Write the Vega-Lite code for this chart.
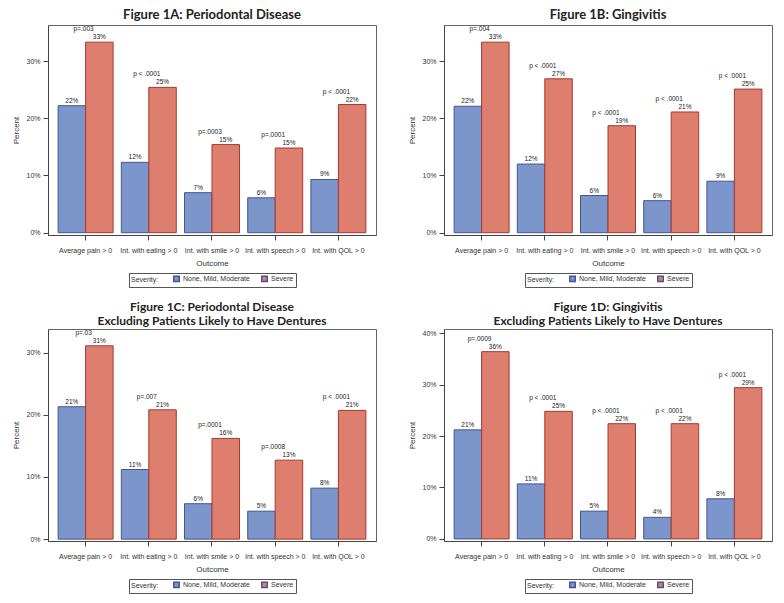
{
  "$schema": "https://vega.github.io/schema/vega-lite/v6.json",
  "padding": {"left": 12, "top": 8, "right": 4, "bottom": 4},
  "background": "white",
  "data": {"values": [
    {"panel": "A", "outcome": "Average pain > 0", "severity": "None, Mild, Moderate", "value": 22.2, "label": "22%"},
    {"panel": "A", "outcome": "Int. with eating > 0", "severity": "None, Mild, Moderate", "value": 12.3, "label": "12%"},
    {"panel": "A", "outcome": "Int. with smile > 0", "severity": "None, Mild, Moderate", "value": 7.0, "label": "7%"},
    {"panel": "A", "outcome": "Int. with speech > 0", "severity": "None, Mild, Moderate", "value": 6.1, "label": "6%"},
    {"panel": "A", "outcome": "Int. with QOL > 0", "severity": "None, Mild, Moderate", "value": 9.3, "label": "9%"},
    {"panel": "A", "outcome": "Average pain > 0", "severity": "Severe", "value": 33.3, "label": "33%", "p": "p=.003"},
    {"panel": "A", "outcome": "Int. with eating > 0", "severity": "Severe", "value": 25.4, "label": "25%", "p": "p < .0001"},
    {"panel": "A", "outcome": "Int. with smile > 0", "severity": "Severe", "value": 15.4, "label": "15%", "p": "p=.0003"},
    {"panel": "A", "outcome": "Int. with speech > 0", "severity": "Severe", "value": 14.8, "label": "15%", "p": "p=.0001"},
    {"panel": "A", "outcome": "Int. with QOL > 0", "severity": "Severe", "value": 22.4, "label": "22%", "p": "p < .0001"},
    {"panel": "B", "outcome": "Average pain > 0", "severity": "None, Mild, Moderate", "value": 22.1, "label": "22%"},
    {"panel": "B", "outcome": "Int. with eating > 0", "severity": "None, Mild, Moderate", "value": 12.0, "label": "12%"},
    {"panel": "B", "outcome": "Int. with smile > 0", "severity": "None, Mild, Moderate", "value": 6.5, "label": "6%"},
    {"panel": "B", "outcome": "Int. with speech > 0", "severity": "None, Mild, Moderate", "value": 5.6, "label": "6%"},
    {"panel": "B", "outcome": "Int. with QOL > 0", "severity": "None, Mild, Moderate", "value": 9.0, "label": "9%"},
    {"panel": "B", "outcome": "Average pain > 0", "severity": "Severe", "value": 33.3, "label": "33%", "p": "p=.004"},
    {"panel": "B", "outcome": "Int. with eating > 0", "severity": "Severe", "value": 26.9, "label": "27%", "p": "p < .0001"},
    {"panel": "B", "outcome": "Int. with smile > 0", "severity": "Severe", "value": 18.7, "label": "19%", "p": "p < .0001"},
    {"panel": "B", "outcome": "Int. with speech > 0", "severity": "Severe", "value": 21.1, "label": "21%", "p": "p < .0001"},
    {"panel": "B", "outcome": "Int. with QOL > 0", "severity": "Severe", "value": 25.1, "label": "25%", "p": "p < .0001"},
    {"panel": "C", "outcome": "Average pain > 0", "severity": "None, Mild, Moderate", "value": 21.3, "label": "21%"},
    {"panel": "C", "outcome": "Int. with eating > 0", "severity": "None, Mild, Moderate", "value": 11.2, "label": "11%"},
    {"panel": "C", "outcome": "Int. with smile > 0", "severity": "None, Mild, Moderate", "value": 5.7, "label": "6%"},
    {"panel": "C", "outcome": "Int. with speech > 0", "severity": "None, Mild, Moderate", "value": 4.5, "label": "5%"},
    {"panel": "C", "outcome": "Int. with QOL > 0", "severity": "None, Mild, Moderate", "value": 8.2, "label": "8%"},
    {"panel": "C", "outcome": "Average pain > 0", "severity": "Severe", "value": 31.1, "label": "31%", "p": "p=.03"},
    {"panel": "C", "outcome": "Int. with eating > 0", "severity": "Severe", "value": 20.8, "label": "21%", "p": "p=.007"},
    {"panel": "C", "outcome": "Int. with smile > 0", "severity": "Severe", "value": 16.2, "label": "16%", "p": "p=.0001"},
    {"panel": "C", "outcome": "Int. with speech > 0", "severity": "Severe", "value": 12.7, "label": "13%", "p": "p=.0008"},
    {"panel": "C", "outcome": "Int. with QOL > 0", "severity": "Severe", "value": 20.7, "label": "21%", "p": "p < .0001"},
    {"panel": "D", "outcome": "Average pain > 0", "severity": "None, Mild, Moderate", "value": 21.2, "label": "21%"},
    {"panel": "D", "outcome": "Int. with eating > 0", "severity": "None, Mild, Moderate", "value": 10.7, "label": "11%"},
    {"panel": "D", "outcome": "Int. with smile > 0", "severity": "None, Mild, Moderate", "value": 5.4, "label": "5%"},
    {"panel": "D", "outcome": "Int. with speech > 0", "severity": "None, Mild, Moderate", "value": 4.2, "label": "4%"},
    {"panel": "D", "outcome": "Int. with QOL > 0", "severity": "None, Mild, Moderate", "value": 7.8, "label": "8%"},
    {"panel": "D", "outcome": "Average pain > 0", "severity": "Severe", "value": 36.4, "label": "36%", "p": "p=.0009"},
    {"panel": "D", "outcome": "Int. with eating > 0", "severity": "Severe", "value": 24.8, "label": "25%", "p": "p < .0001"},
    {"panel": "D", "outcome": "Int. with smile > 0", "severity": "Severe", "value": 22.4, "label": "22%", "p": "p < .0001"},
    {"panel": "D", "outcome": "Int. with speech > 0", "severity": "Severe", "value": 22.4, "label": "22%", "p": "p < .0001"},
    {"panel": "D", "outcome": "Int. with QOL > 0", "severity": "Severe", "value": 29.4, "label": "29%", "p": "p < .0001"}
  ]},
  "columns": 2,
  "spacing": {"row": 12, "column": 31},
  "resolve": {"scale": {"color": "independent", "y": "independent", "x": "independent"}, "legend": {"color": "independent"}},
  "concat": [
    {
      "title": {"text": "Figure 1A: Periodontal Disease", "fontSize": 13, "offset": 3},
      "width": 328, "height": 210,
      "transform": [{"filter": "datum.panel == 'A'"}],
      "encoding": {
        "x": {"field": "outcome", "type": "nominal", "sort": null, "title": "Outcome", "scale": {"paddingInner": 0.13, "paddingOuter": 0.16}, "axis": {"labelAngle": 0}},
        "y": {"field": "value", "type": "quantitative", "title": "Percent", "scale": {"domain": [-0.4, 36.3], "nice": false}, "axis": {"values": [0, 10, 20, 30], "labelExpr": "datum.value + '%'"}}
      },
      "layer": [
        {"mark": {"type": "bar", "strokeWidth": 1},
         "encoding": {
           "xOffset": {"field": "severity", "type": "nominal", "scale": {"paddingInner": 0, "paddingOuter": 0}},
           "color": {"field": "severity", "type": "nominal", "title": "Severity:", "scale": {"domain": ["None, Mild, Moderate", "Severe"], "range": ["#7C95CA", "#DE7E6F"]},
             "legend": {"encode": {"symbols": {"update": {"stroke": {"signal": "datum.value == 'Severe' ? '#A23A2E' : '#445694'"}, "strokeWidth": {"value": 1}}}}}},
           "stroke": {"condition": {"test": "datum.severity == 'Severe'", "value": "#A23A2E"}, "value": "#445694"}
         }},
        {"mark": {"type": "text", "baseline": "bottom", "dy": -2, "fontSize": 6.5, "font": "Liberation Sans", "fill": "#222"},
         "encoding": {"xOffset": {"field": "severity", "type": "nominal", "scale": {"paddingInner": 0, "paddingOuter": 0}}, "text": {"field": "label"}}},
        {"transform": [{"filter": "datum.severity == 'Severe'"}],
         "mark": {"type": "text", "baseline": "bottom", "dy": -10, "dx": -2, "fontSize": 6.5, "font": "Liberation Sans", "fill": "#222"},
         "encoding": {"text": {"field": "p"}}}
      ]
    },
    {
      "title": {"text": "Figure 1B: Gingivitis", "fontSize": 13, "offset": 3},
      "width": 328, "height": 210,
      "transform": [{"filter": "datum.panel == 'B'"}],
      "encoding": {
        "x": {"field": "outcome", "type": "nominal", "sort": null, "title": "Outcome", "scale": {"paddingInner": 0.13, "paddingOuter": 0.16}, "axis": {"labelAngle": 0}},
        "y": {"field": "value", "type": "quantitative", "title": "Percent", "scale": {"domain": [-0.4, 36.3], "nice": false}, "axis": {"values": [0, 10, 20, 30], "labelExpr": "datum.value + '%'"}}
      },
      "layer": [
        {"mark": {"type": "bar", "strokeWidth": 1},
         "encoding": {
           "xOffset": {"field": "severity", "type": "nominal", "scale": {"paddingInner": 0, "paddingOuter": 0}},
           "color": {"field": "severity", "type": "nominal", "title": "Severity:", "scale": {"domain": ["None, Mild, Moderate", "Severe"], "range": ["#7C95CA", "#DE7E6F"]},
             "legend": {"encode": {"symbols": {"update": {"stroke": {"signal": "datum.value == 'Severe' ? '#A23A2E' : '#445694'"}, "strokeWidth": {"value": 1}}}}}},
           "stroke": {"condition": {"test": "datum.severity == 'Severe'", "value": "#A23A2E"}, "value": "#445694"}
         }},
        {"mark": {"type": "text", "baseline": "bottom", "dy": -2, "fontSize": 6.5, "font": "Liberation Sans", "fill": "#222"},
         "encoding": {"xOffset": {"field": "severity", "type": "nominal", "scale": {"paddingInner": 0, "paddingOuter": 0}}, "text": {"field": "label"}}},
        {"transform": [{"filter": "datum.severity == 'Severe'"}],
         "mark": {"type": "text", "baseline": "bottom", "dy": -10, "dx": -2, "fontSize": 6.5, "font": "Liberation Sans", "fill": "#222"},
         "encoding": {"text": {"field": "p"}}}
      ]
    },
    {
      "title": {"text": "Figure 1C: Periodontal Disease", "subtitle": "Excluding Patients Likely to Have Dentures", "fontSize": 12, "offset": 1},
      "width": 328, "height": 212,
      "transform": [{"filter": "datum.panel == 'C'"}],
      "encoding": {
        "x": {"field": "outcome", "type": "nominal", "sort": null, "title": "Outcome", "scale": {"paddingInner": 0.13, "paddingOuter": 0.16}, "axis": {"labelAngle": 0}},
        "y": {"field": "value", "type": "quantitative", "title": "Percent", "scale": {"domain": [-0.3, 33.8], "nice": false}, "axis": {"values": [0, 10, 20, 30], "labelExpr": "datum.value + '%'"}}
      },
      "layer": [
        {"mark": {"type": "bar", "strokeWidth": 1},
         "encoding": {
           "xOffset": {"field": "severity", "type": "nominal", "scale": {"paddingInner": 0, "paddingOuter": 0}},
           "color": {"field": "severity", "type": "nominal", "title": "Severity:", "scale": {"domain": ["None, Mild, Moderate", "Severe"], "range": ["#7C95CA", "#DE7E6F"]},
             "legend": {"encode": {"symbols": {"update": {"stroke": {"signal": "datum.value == 'Severe' ? '#A23A2E' : '#445694'"}, "strokeWidth": {"value": 1}}}}}},
           "stroke": {"condition": {"test": "datum.severity == 'Severe'", "value": "#A23A2E"}, "value": "#445694"}
         }},
        {"mark": {"type": "text", "baseline": "bottom", "dy": -2, "fontSize": 6.5, "font": "Liberation Sans", "fill": "#222"},
         "encoding": {"xOffset": {"field": "severity", "type": "nominal", "scale": {"paddingInner": 0, "paddingOuter": 0}}, "text": {"field": "label"}}},
        {"transform": [{"filter": "datum.severity == 'Severe'"}],
         "mark": {"type": "text", "baseline": "bottom", "dy": -10, "dx": -2, "fontSize": 6.5, "font": "Liberation Sans", "fill": "#222"},
         "encoding": {"text": {"field": "p"}}}
      ]
    },
    {
      "title": {"text": "Figure 1D: Gingivitis", "subtitle": "Excluding Patients Likely to Have Dentures", "fontSize": 12, "offset": 1},
      "width": 328, "height": 212,
      "transform": [{"filter": "datum.panel == 'D'"}],
      "encoding": {
        "x": {"field": "outcome", "type": "nominal", "sort": null, "title": "Outcome", "scale": {"paddingInner": 0.13, "paddingOuter": 0.16}, "axis": {"labelAngle": 0}},
        "y": {"field": "value", "type": "quantitative", "title": "Percent", "scale": {"domain": [-0.4, 40.8], "nice": false}, "axis": {"values": [0, 10, 20, 30, 40], "labelExpr": "datum.value + '%'"}}
      },
      "layer": [
        {"mark": {"type": "bar", "strokeWidth": 1},
         "encoding": {
           "xOffset": {"field": "severity", "type": "nominal", "scale": {"paddingInner": 0, "paddingOuter": 0}},
           "color": {"field": "severity", "type": "nominal", "title": "Severity:", "scale": {"domain": ["None, Mild, Moderate", "Severe"], "range": ["#7C95CA", "#DE7E6F"]},
             "legend": {"encode": {"symbols": {"update": {"stroke": {"signal": "datum.value == 'Severe' ? '#A23A2E' : '#445694'"}, "strokeWidth": {"value": 1}}}}}},
           "stroke": {"condition": {"test": "datum.severity == 'Severe'", "value": "#A23A2E"}, "value": "#445694"}
         }},
        {"mark": {"type": "text", "baseline": "bottom", "dy": -2, "fontSize": 6.5, "font": "Liberation Sans", "fill": "#222"},
         "encoding": {"xOffset": {"field": "severity", "type": "nominal", "scale": {"paddingInner": 0, "paddingOuter": 0}}, "text": {"field": "label"}}},
        {"transform": [{"filter": "datum.severity == 'Severe'"}],
         "mark": {"type": "text", "baseline": "bottom", "dy": -10, "dx": -2, "fontSize": 6.5, "font": "Liberation Sans", "fill": "#222"},
         "encoding": {"text": {"field": "p"}}}
      ]
    }
  ],
  "config": {
    "font": "Liberation Sans",
    "view": {"stroke": "#666", "strokeWidth": 1},
    "title": {"font": "Lato", "fontWeight": "bold", "color": "#222", "anchor": "middle", "subtitleFont": "Lato", "subtitleFontWeight": "bold", "subtitleFontSize": 12, "subtitleColor": "#222", "subtitlePadding": 2},
    "axis": {"grid": false, "labelFont": "Liberation Sans", "labelFontSize": 7, "labelColor": "#333", "titleFont": "Liberation Sans", "titleFontSize": 8, "titleFontWeight": "normal", "titleColor": "#333", "domainColor": "#444", "tickColor": "#444", "tickSize": 5, "labelPadding": 3, "titlePadding": 5},
    "axisX": {"labelPadding": 6, "titlePadding": 6},
    "legend": {"orient": "bottom", "direction": "horizontal", "titleOrient": "left", "strokeColor": "#555", "padding": 2, "offset": 6, "labelFontSize": 7, "titleFontSize": 7, "titleFontWeight": "normal", "titleFont": "Liberation Sans", "labelFont": "Liberation Sans", "labelColor": "#333", "titleColor": "#333", "symbolType": "square", "symbolSize": 30, "columnPadding": 8, "titlePadding": 14, "labelOffset": 3, "layout": {"bottom": {"anchor": "middle"}}}
  }
}
